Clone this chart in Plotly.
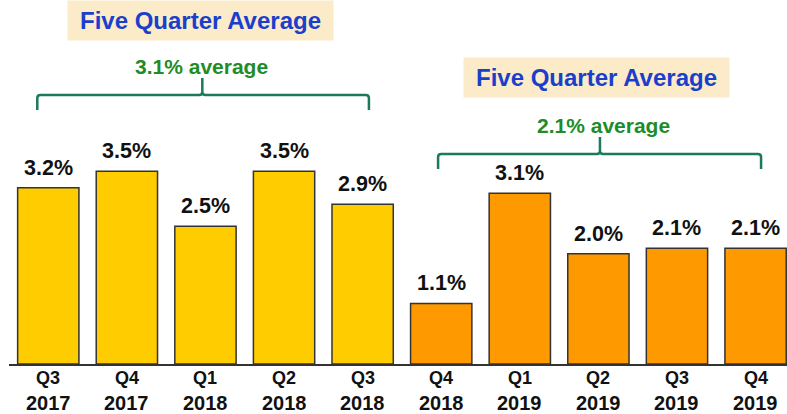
import plotly.graph_objects as go

# quarterly values (%)
quarters = ["Q3", "Q4", "Q1", "Q2", "Q3", "Q4", "Q1", "Q2", "Q3", "Q4"]
years = ["2017", "2017", "2018", "2018", "2018", "2018", "2019", "2019", "2019", "2019"]
values = [3.2, 3.5, 2.5, 3.5, 2.9, 1.1, 3.1, 2.0, 2.1, 2.1]
bar_colors = ["#FFCC00"] * 5 + ["#FF9900"] * 5

# five quarter groups: average text for each
group_labels = ["3.1% average", "2.1% average"]

FONT = "Liberation Sans, Arial, sans-serif"
BRACKET = "#1B7A5C"
GREEN = "#1E8C28"
BLUE = "#1A3FCC"
PX = 55.1  # pixels per percentage point

x = list(range(len(values)))

fig = go.Figure()
fig.add_trace(go.Bar(
    x=x,
    y=values,
    width=0.78,
    marker=dict(color=bar_colors, line=dict(color="#333333", width=1.5)),
    hoverinfo="skip",
))

annotations = []
# value labels above bars
for i, v in zip(x, values):
    annotations.append(dict(
        x=i, y=v, xref="x", yref="y", text=f"<b>{v:.1f}%</b>",
        showarrow=False, yanchor="middle", yshift=20,
        font=dict(size=21.5, color="#111111", family=FONT),
    ))
# two-line category labels
for i, q, yr in zip(x, quarters, years):
    annotations.append(dict(
        x=i, y=0, xref="x", yref="paper", text=f"<b>{q}</b>",
        showarrow=False, yanchor="middle", yshift=-14,
        font=dict(size=18, color="#111111", family=FONT),
    ))
    annotations.append(dict(
        x=i, y=0, xref="x", yref="paper", text=f"<b>{yr}</b>",
        showarrow=False, yanchor="middle", yshift=-39,
        font=dict(size=20, color="#111111", family=FONT),
    ))

# bracket geometry per group: left end, centre tick, right end, height (px from top)
brackets = [(-0.14, 1.96, 4.08, 95), (4.96, 7.02, 9.07, 154)]
label_x = [1.95, 7.07]
titles = [(1.937, 20.5), (6.976, 77.5)]

shapes = []
for (x0, xm, x1, top), label, lx, (tx, ty) in zip(brackets, group_labels, label_x, titles):
    by = (364 - top) / PX
    drop = 15 / PX
    rise = 17 / PX
    r = 0.04
    ry = 3 / PX
    path = (
        f"M {x0},{by - drop} L {x0},{by - ry} Q {x0},{by} {x0 + r},{by} "
        f"L {xm - r},{by} Q {xm},{by} {xm},{by + ry} L {xm},{by + rise} "
        f"M {xm},{by + ry} Q {xm},{by} {xm + r},{by} "
        f"L {x1 - r},{by} Q {x1},{by} {x1},{by - ry} L {x1},{by - drop}"
    )
    shapes.append(dict(type="path", path=path, xref="x", yref="y",
                       line=dict(color=BRACKET, width=2.5)))
    annotations.append(dict(
        x=lx, y=by + 29 / PX, xref="x", yref="y", text=f"<b>{label}</b>",
        showarrow=False, yanchor="middle",
        font=dict(size=21, color=GREEN, family=FONT),
    ))
    annotations.append(dict(
        x=tx, y=(364 - ty) / PX, xref="x", yref="y", text="<b>Five Quarter Average</b>",
        showarrow=False, yanchor="middle", width=263, height=37,
        bgcolor="#FCEBC8", borderpad=1,
        font=dict(size=24, color=BLUE, family=FONT),
    ))

fig.update_layout(
    width=787, height=414,
    margin=dict(l=9, r=0, t=0, b=50),
    paper_bgcolor="white",
    plot_bgcolor="white",
    showlegend=False,
    font=dict(family=FONT),
    xaxis=dict(range=[-0.5, 9.4], showticklabels=False, showgrid=False,
               zeroline=False, showline=True, linecolor="#333333", linewidth=1.5,
               ticks=""),
    yaxis=dict(range=[0, 364 / PX], visible=False),
    shapes=shapes,
    annotations=annotations,
)

fig.write_html(
    "out.html",
    config={"displayModeBar": False},
    post_script="document.body.style.margin='0';document.body.style.overflow='hidden';",
)
